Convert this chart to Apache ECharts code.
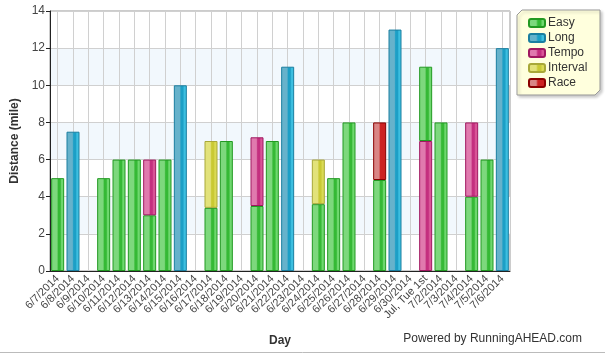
<!DOCTYPE html>
<html>
<head>
<meta charset="utf-8">
<script src="https://cdn.jsdelivr.net/npm/echarts@6/dist/echarts.min.js"></script>
<style>
  html, body { margin: 0; padding: 0; background: #fff; }
  #chart { width: 605px; height: 354px; }
</style>
</head>
<body>
<div id="chart"></div>
<script>
// days on the x axis
const days = ['6/7/2014', '6/8/2014', '6/9/2014', '6/10/2014', '6/11/2014', '6/12/2014',
  '6/13/2014', '6/14/2014', '6/15/2014', '6/16/2014', '6/17/2014', '6/18/2014',
  '6/19/2014', '6/20/2014', '6/21/2014', '6/22/2014', '6/23/2014', '6/24/2014',
  '6/25/2014', '6/26/2014', '6/27/2014', '6/28/2014', '6/29/2014', '6/30/2014',
  'Jul, Tue 1st', '7/2/2014', '7/3/2014', '7/4/2014', '7/5/2014', '7/6/2014'];

// miles per run type (stacked in the order they were run)
const easyFirst = [5, null, null, 5, 6, 6, 3, 6, null, null, 3.4, 7, null, 3.5, 7, null, null, 3.6, 5, 8, null, 4.9, null, null, null, 8, null, 4, 6, null];
const tempo     = [null, null, null, null, null, null, 3, null, null, null, null, null, null, 3.7, null, null, null, null, null, null, null, null, null, null, 7, null, null, 4, null, null];
const interval  = [null, null, null, null, null, null, null, null, null, null, 3.6, null, null, null, null, null, null, 2.4, null, null, null, null, null, null, null, null, null, null, null, null];
const race      = [null, null, null, null, null, null, null, null, null, null, null, null, null, null, null, null, null, null, null, null, null, 3.1, null, null, null, null, null, null, null, null];
const long      = [null, 7.5, null, null, null, null, null, null, 10, null, null, null, null, null, null, 11, null, null, null, null, null, null, 13, null, null, null, null, null, null, 12];
const easyLater = [null, null, null, null, null, null, null, null, null, null, null, null, null, null, null, null, null, null, null, null, null, null, null, null, 4, null, null, null, null, null];

const yTicks = [0, 2, 4, 6, 8, 10, 12, 14];

const FONT = 'Liberation Sans, Arial, sans-serif';

// bar shading: light left half, dark stripe, lighter right edge
function shade(light, dark, right, border) {
  return {
    color: new echarts.graphic.LinearGradient(0, 0, 1, 0, [
      { offset: 0, color: light },
      { offset: 0.45, color: light },
      { offset: 0.55, color: dark },
      { offset: 0.7, color: dark },
      { offset: 0.8, color: right },
      { offset: 1, color: right }
    ]),
    borderColor: border,
    borderWidth: 1
  };
}

const styles = {
  Easy: shade('#7dd87d', '#35b935', '#6fd86f', '#229922'),
  Long: shade('#66b2cb', '#1c9fc6', '#3dbfe0', '#1a7ea0'),
  Tempo: shade('#e07aae', '#c42f7f', '#d95597', '#a01860'),
  Interval: shade('#e2e27a', '#c9c933', '#dada55', '#a8a838'),
  Race: shade('#d98585', '#cc2222', '#cc2222', '#8a0000')
};

function bar(name, data) {
  return {
    name: name,
    type: 'bar',
    stack: 'day',
    data: data,
    barWidth: 13,
    itemStyle: styles[name]
  };
}

const chart = echarts.init(document.getElementById('chart'), null, { renderer: 'canvas' });

chart.setOption({
  animation: false,
  backgroundColor: '#fff',
  textStyle: { fontFamily: FONT },
  grid: {
    left: 50, right: 95, top: 11, bottom: 83,
    show: true, borderColor: '#999', borderWidth: 1
  },
  legend: {
    orient: 'vertical',
    left: 523, top: 12,
    itemWidth: 16, itemHeight: 8, itemGap: 3,
    data: ['Easy', 'Long', 'Tempo', 'Interval', 'Race'],
    textStyle: { fontSize: 12, color: '#333', fontFamily: FONT, padding: [0, 0, 0, -2] },
    z: 10
  },
  xAxis: {
    type: 'category',
    data: days,
    name: 'Day',
    nameLocation: 'middle',
    nameGap: 64,
    nameTextStyle: { fontSize: 12, fontWeight: 'bold', color: '#333', fontFamily: FONT },
    axisLine: { lineStyle: { color: '#222', width: 1 } },
    axisTick: { alignWithLabel: true, length: 5, lineStyle: { color: '#222' } },
    axisLabel: { interval: 0, rotate: 45, fontSize: 11, color: '#444', margin: 6, fontFamily: FONT },
    splitLine: { show: true, alignWithLabel: true, lineStyle: { color: '#d0d0d0' } }
  },
  yAxis: {
    type: 'value',
    min: yTicks[0], max: yTicks[yTicks.length - 1], interval: 2,
    name: 'Distance (mile)',
    nameLocation: 'middle',
    nameGap: 24,
    nameTextStyle: { fontSize: 12, fontWeight: 'bold', color: '#333', fontFamily: FONT },
    axisLine: { show: true, lineStyle: { color: '#222', width: 1 } },
    axisTick: { show: true, length: 4, lineStyle: { color: '#222' } },
    axisLabel: { fontSize: 12, color: '#444', margin: 5, fontFamily: FONT },
    splitLine: { lineStyle: { color: '#d0d0d0' } },
    splitArea: { show: true, areaStyle: { color: ['rgba(255,255,255,0)', '#f2f8fd'] } }
  },
  graphic: [
    {
      type: 'polygon',
      z: -1,
      shape: { points: [[522, 10], [600, 10], [600, 90], [595, 95], [517, 95], [517, 15]] },
      style: { fill: '#ffffdd', stroke: '#999', lineWidth: 1, shadowBlur: 3, shadowOffsetX: 2, shadowOffsetY: 2, shadowColor: 'rgba(0,0,0,0.2)' }
    },
    {
      type: 'text',
      right: 23, top: 333,
      style: { text: 'Powered by RunningAHEAD.com', fontSize: 12, fill: '#333', fontFamily: FONT }
    },
    {
      type: 'line',
      shape: { x1: 0, y1: 352.5, x2: 605, y2: 352.5 },
      style: { stroke: '#bbb', lineWidth: 1 }
    }
  ],
  series: [
    bar('Easy', easyFirst),
    bar('Tempo', tempo),
    bar('Interval', interval),
    bar('Race', race),
    bar('Long', long),
    bar('Easy', easyLater)
  ]
});
</script>
</body>
</html>
